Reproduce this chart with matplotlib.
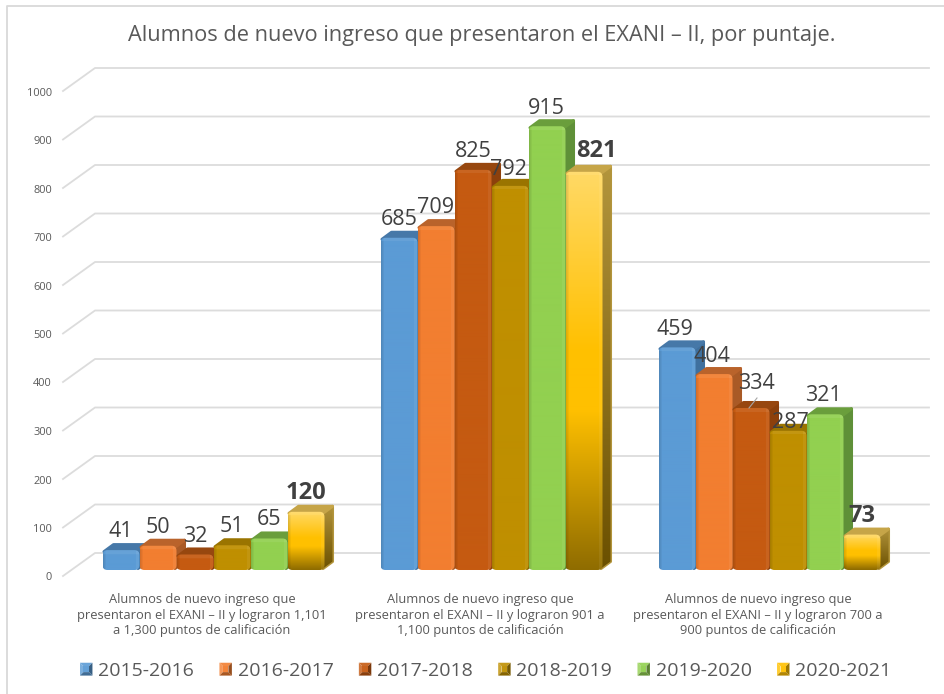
import numpy as np
import matplotlib
matplotlib.use("Agg")
import matplotlib.pyplot as plt
from matplotlib.colors import to_rgb
from matplotlib.legend_handler import HandlerBase
from matplotlib.patches import FancyBboxPatch, Patch, Polygon

plt.rcParams['font.family'] = ['Open Sans', 'DejaVu Sans']

title = "Alumnos de nuevo ingreso que presentaron el EXANI – II, por puntaje."
categories = [
    "Alumnos de nuevo ingreso que\npresentaron el EXANI – II y lograron 1,101\na 1,300 puntos de calificación",
    "Alumnos de nuevo ingreso que\npresentaron el EXANI – II y lograron 901 a\n1,100 puntos de calificación",
    "Alumnos de nuevo ingreso que\npresentaron el EXANI – II y lograron 700 a\n900 puntos de calificación",
]
years = ["2015-2016", "2016-2017", "2017-2018", "2018-2019", "2019-2020", "2020-2021"]
v_2015 = [41, 685, 459]
v_2016 = [50, 709, 404]
v_2017 = [32, 825, 334]
v_2018 = [51, 792, 287]
v_2019 = [65, 915, 321]
v_2020 = [120, 821, 73]
series = [v_2015, v_2016, v_2017, v_2018, v_2019, v_2020]
y_ticks = [0, 100, 200, 300, 400, 500, 600, 700, 800, 900, 1000]

front_cols = ["#5B9BD5", "#F27E30", "#C55A11", "#BF8F00", "#92D050", "#FFC000"]
top_cols = ["#4678A8", "#B9632B", "#97470F", "#9A7400", "#6A9E3C", "#C6A548"]
side_cols = ["#3F709E", "#A95A26", "#8C400C", "#8A6800", "#5F9038", "#B3953C"]

# label nudges in pixels, (group, series): (dx, dy), rest sit above the bar
nudge = {(1, 3): (-2, 2), (1, 5): (12, -2), (2, 2): (5, -6), (2, 3): (2, 10),
         (2, 1): (-2, 1), (0, 2): (0, 1), (1, 4): (-1, 1), (2, 4): (-2, 0), (2, 0): (-2, 1)}

W, H = 945, 694
PX_X = 278.0      # pixels per category
PX_Y = 0.485      # pixels per value unit
BASE_X, BASE_Y = 213.5, 570.0
bar_w = 37.0 / PX_X
dep_x, dep_y = 9.5 / PX_X, 7.0 / PX_Y
ins_x, ins_y = 1.5 / PX_X, 1.5 / PX_Y


def xd(px):
    return (px - BASE_X) / PX_X


def yd(py):
    return (BASE_Y - py) / PX_Y


def shade(col, f):
    c = np.array(to_rgb(col))
    if f < 1:
        return c * f
    return c + (1 - c) * (f - 1)


class BevelHandler(HandlerBase):
    # legend swatch with the same bevel look as the bars
    def create_artists(self, legend, orig, xd_, yd_, width, height, fontsize, trans):
        col = orig.get_facecolor()
        x0, y0 = -xd_, -yd_
        x1, y1 = x0 + width, y0 + height
        i = width * 0.28
        cx0, cy0, cx1, cy1 = x0 + i, y0 + i, x1 - i, y1 - i
        parts = [([(x0, y0), (x0, y1), (cx0, cy1), (cx0, cy0)], shade(col[:3], 1.2)),
                 ([(x0, y1), (x1, y1), (cx1, cy1), (cx0, cy1)], shade(col[:3], 1.1)),
                 ([(x1, y1), (x1, y0), (cx1, cy0), (cx1, cy1)], shade(col[:3], 0.62)),
                 ([(x1, y0), (x0, y0), (cx0, cy0), (cx1, cy0)], shade(col[:3], 0.7)),
                 ([(cx0, cy0), (cx0, cy1), (cx1, cy1), (cx1, cy0)], shade(col[:3], 1.05))]
        return [Polygon(p, closed=True, fc=c, ec="none", transform=trans) for p, c in parts]


fig = plt.figure(figsize=(W / 100, H / 100), dpi=100)
ax = fig.add_axes([0, 0, 1, 1])
ax.set_xlim(xd(0), xd(W))
ax.set_ylim(yd(H), yd(0))
ax.axis("off")

# frame of the pasted picture
ax.plot([xd(7), xd(7), xd(W)], [yd(H), yd(5.5), yd(5.5)], color="#D9D9D9", lw=1.3, zorder=1)

# wall grid, front edge is 6 px under the bars, back wall 17 px above them
for t in y_ticks:
    ax.plot([xd(63), xd(95), xd(929)],
            [t + yd(576), t + yd(553), t + yd(553)], color="#DCDCDC", lw=1.3, zorder=1)
    ax.text(xd(52), t + yd(578), str(t), ha="right", va="center", fontsize=7.9, color="#595959")

z = 3
for g in range(len(categories)):
    for s, vals in enumerate(series):
        v = vals[g]
        x0 = g + (-3 + s) * bar_w
        x1 = x0 + bar_w
        # side face
        side = Polygon([(x1 - ins_x, ins_y), (x1 + dep_x - ins_x, dep_y + ins_y),
                        (x1 + dep_x - ins_x, v + dep_y - ins_y), (x1 - ins_x, v - ins_y)],
                       closed=True, fc=side_cols[s], ec=side_cols[s], lw=2.2, joinstyle="round", zorder=z)
        ax.add_patch(side)
        if s == 5:
            rows = np.linspace(0, 1, 64)[:, None]
            img = (1 - rows) * np.array(to_rgb(side_cols[s])) + rows * np.array(to_rgb("#6B5000"))
            ax.imshow(img[:, None, :], extent=[x1 - 0.01, x1 + dep_x + 0.01, 0, v + dep_y],
                      aspect="auto", clip_path=side, zorder=z, interpolation="bilinear")
        # top face
        ax.add_patch(Polygon([(x0 + ins_x, v - ins_y), (x0 + dep_x + ins_x, v + dep_y - ins_y),
                              (x1 + dep_x - ins_x, v + dep_y - ins_y), (x1 - ins_x, v - ins_y)],
                             closed=True, fc=top_cols[s], ec=top_cols[s], lw=2.2, joinstyle="round", zorder=z))
        # front face with a bevel, painted as an image clipped to a rounded box
        front = FancyBboxPatch((x0, 0), bar_w, v, boxstyle="round,pad=0,rounding_size=%f" % (5.0 / PX_X),
                               mutation_aspect=PX_X / PX_Y, fc="none", ec="none", zorder=z + 1)
        ax.add_patch(front)
        nh = max(int(v * PX_Y), 4)
        nw = 37
        img = np.zeros((nh, nw, 3))
        for r in range(nh):
            if s == 5:
                t = r / max(nh - 1, 1)
                if t < 0.45:
                    col = shade("#FFC000", 1 + 0.4 * (1 - t / 0.45))
                elif t < 0.6:
                    col = np.array(to_rgb("#FFC000"))
                else:
                    col = np.array(to_rgb("#FFC000")) * (1 - (t - 0.6) / 0.4) + \
                        np.array(to_rgb("#8F6C00")) * ((t - 0.6) / 0.4)
            else:
                col = shade(front_cols[s], 1.0)
            for c in range(nw):
                f = 1.0
                if c < 3:
                    f = 0.88 + 0.04 * c
                elif c > nw - 5:
                    f = 1.06
                if r < 4:
                    f += 0.07
                if f < 1:
                    img[r, c] = col * f
                else:
                    img[r, c] = col + (1 - col) * (f - 1)
        ax.imshow(img, extent=[x0, x1, 0, v], aspect="auto", clip_path=front, zorder=z + 1,
                  interpolation="bilinear")
        z += 2

        # value label
        dx, dy = nudge.get((g, s), (0, 0))
        bold = s == 5
        ax.text(x0 + bar_w / 2 + dx / PX_X, v + (13 - dy) / PX_Y, str(v), ha="center", va="baseline",
                fontsize=17 if bold else 15.5, color="#404040", fontweight="bold" if bold else "normal",
                zorder=200)

# leader line of the 334 label
ax.plot([xd(757), xd(749)], [yd(398), yd(408)], color="#A6A6A6", lw=0.8, zorder=201)

ax.set_xlim(xd(0), xd(W))
ax.set_ylim(yd(H), yd(0))

for g, label in enumerate(categories):
    ax.text(g - 11.5 / PX_X, yd(615), label, ha="center", va="center", fontsize=9.3,
            color="#595959", linespacing=1.27)

fig.text(481.5 / W, 1 - 35 / H, title, ha="center", va="center", fontsize=15.7, color="#595959")

handles = [Patch(fc=front_cols[i]) for i in range(len(years))]
fig.legend(handles, years, loc="center left", bbox_to_anchor=(80 / W, 1 - 671 / H), ncol=6, frameon=False,
           fontsize=14, labelcolor="#595959", handlelength=0.64, handleheight=0.64,
           handletextpad=0.3, columnspacing=1.3, borderpad=0, borderaxespad=0,
           handler_map={Patch: BevelHandler()})

fig.savefig("out.png", dpi=100)
